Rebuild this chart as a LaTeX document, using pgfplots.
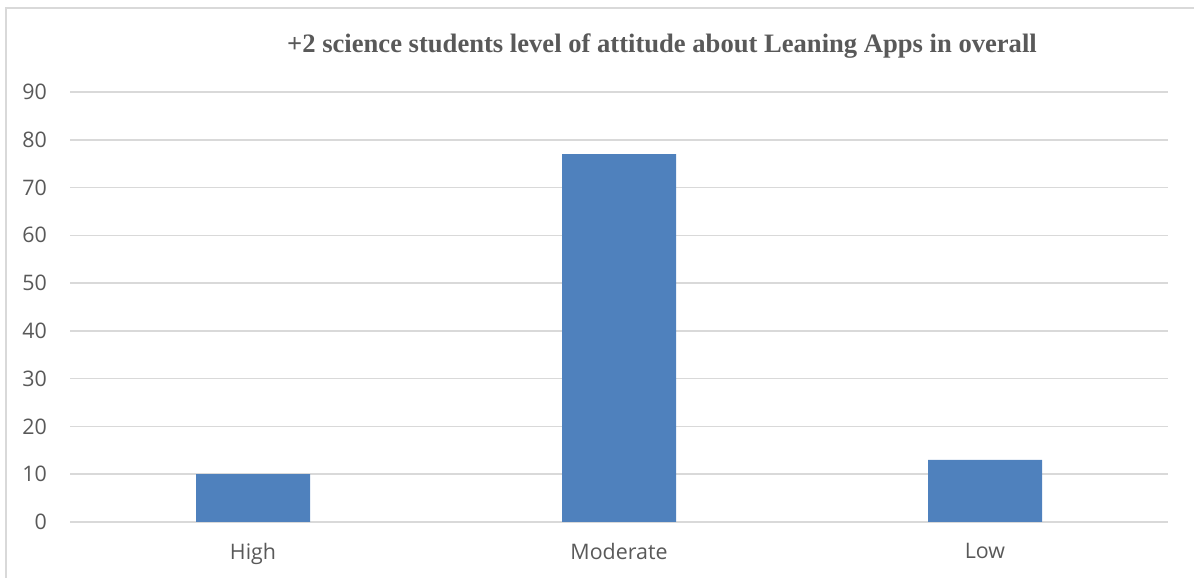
\documentclass[border=0pt]{standalone}
\usepackage{pgfplots}
\pgfplotsset{compat=1.18}
\usepackage{fontspec}
\setmainfont{Open Sans}
\newfontfamily\titlefont{Liberation Serif}
\definecolor{barblue}{HTML}{4F81BD}
\definecolor{gridgray}{HTML}{D9D9D9}
\definecolor{textgray}{HTML}{595959}
\begin{document}
\begin{tikzpicture}[x=1pt,y=1pt]
\useasboundingbox (0,0) rectangle (597,289);
\draw[gridgray, line width=0.6pt] (3,0) -- (3,285) -- (598,285);
\begin{axis}[
  at={(35pt,28pt)}, anchor=south west,
  scale only axis, width=549pt, height=215pt,
  ymin=0, ymax=90, ytick={0,10,...,90},
  xmin=-0.5, xmax=2.5, xtick={0,1,2},
  xticklabels={High,Moderate,Low},
  axis line style={draw=none},
  major tick length=0pt,
  ymajorgrids, grid style={gridgray, line width=0.75pt},
  yticklabel style={font=\fontsize{10.7}{12}\selectfont, text=textgray, xshift=-8pt},
  xticklabel style={font=\fontsize{10.7}{12}\selectfont, text=textgray, yshift=-7pt},
  /pgf/number format/assume math mode=true,
  ybar, bar width=57pt,
  clip=false,
]
\addplot[fill=barblue, draw=none] coordinates {(0,10) (1,77) (2,13)};
\end{axis}
\node[font=\titlefont\bfseries\fontsize{13.3}{15}\selectfont, text=textgray] at (331,266) {+2 science students level of attitude about Leaning Apps in overall};
\end{tikzpicture}
\end{document}
